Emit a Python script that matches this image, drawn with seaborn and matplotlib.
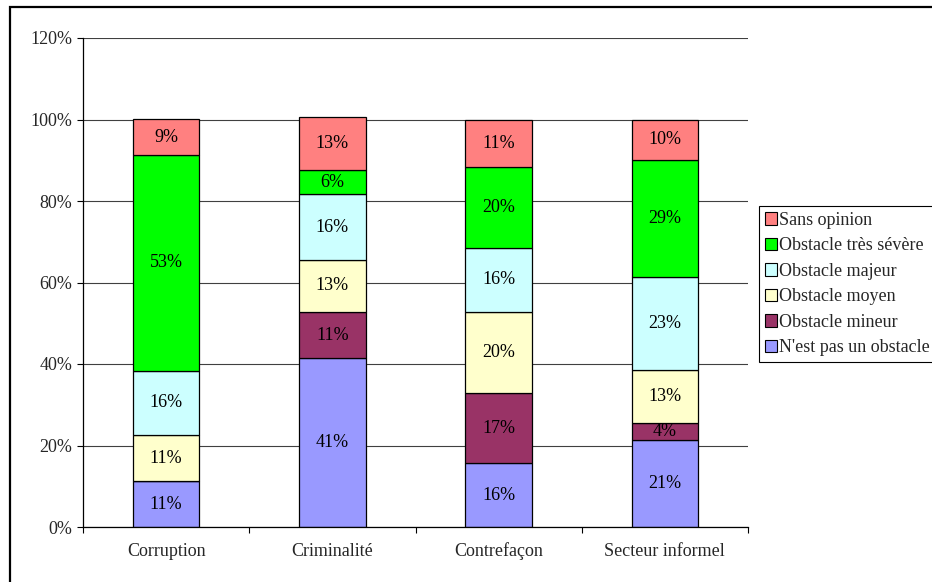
import matplotlib
matplotlib.use("Agg")
import matplotlib.pyplot as plt
from matplotlib.patches import Rectangle
from matplotlib.ticker import FixedLocator, FuncFormatter, NullFormatter
import numpy as np
import seaborn as sns

# Categories on the x axis
categories = ["Corruption", "Criminalité", "Contrefaçon", "Secteur informel"]

# Series, stacked from bottom to top (percent of respondents)
series_names = [
    "N'est pas un obstacle",
    "Obstacle mineur",
    "Obstacle moyen",
    "Obstacle majeur",
    "Obstacle très sévère",
    "Sans opinion",
]
pas_obstacle = [11.2, 41.4, 15.6, 21.3]
mineur = [0.0, 11.4, 17.2, 4.3]
moyen = [11.4, 12.8, 20.0, 13.0]
majeur = [15.8, 16.0, 15.7, 22.8]
tres_severe = [52.9, 6.0, 19.9, 28.6]
sans_opinion = [8.7, 13.1, 11.4, 10.0]
series_values = [pas_obstacle, mineur, moyen, majeur, tres_severe, sans_opinion]

colors = ["#9999FF", "#993366", "#FFFFCC", "#CCFFFF", "#00FF00", "#FF8080"]

y_ticks = [0, 20, 40, 60, 80, 100, 120]

FS = 13

sns.set_style("white")
plt.rcParams["font.family"] = ["Liberation Serif", "DejaVu Serif"]
plt.rcParams["font.size"] = FS

fig = plt.figure(figsize=(9.32, 5.82), dpi=100)
fig.patch.set_facecolor("white")
ax = fig.add_axes([83 / 932, 55 / 582, 665 / 932, 489 / 582])

bottom = np.zeros(len(categories))
for name, vals, col in zip(series_names, series_values, colors):
    vals = np.asarray(vals, dtype=float)
    sns.barplot(
        x=categories, y=vals, bottom=bottom, color=col, saturation=1,
        width=0.4, edgecolor="black", linewidth=0.9, errorbar=None, ax=ax,
    )
    container = ax.containers[-1]
    labels = [f"{v:.0f}%" if v > 0 else "" for v in vals]
    ax.bar_label(container, labels=labels, label_type="center",
                 fontsize=FS, color="black")
    bottom = bottom + vals

if ax.get_legend() is not None:
    ax.get_legend().remove()

ax.set_ylim(0, 120)
ax.set_xlim(-0.5, len(categories) - 0.5)
ax.yaxis.set_major_locator(FixedLocator(y_ticks))
ax.yaxis.set_major_formatter(FuncFormatter(lambda v, p: f"{v:.0f}%"))
ax.set_xlabel("")
ax.set_ylabel("")

ax.yaxis.grid(True, color="#404040", linewidth=0.8)
ax.xaxis.grid(False)
ax.set_axisbelow(True)

for side in ["top", "right"]:
    ax.spines[side].set_visible(False)
for side in ["left", "bottom"]:
    ax.spines[side].set_visible(True)
    ax.spines[side].set_color("black")
    ax.spines[side].set_linewidth(0.9)

ax.tick_params(axis="y", direction="out", length=4.5, width=0.8,
               color="black", pad=3, labelsize=FS, left=True)
ax.xaxis.set_minor_locator(FixedLocator(np.arange(-0.5, len(categories), 1.0)))
ax.xaxis.set_minor_formatter(NullFormatter())
ax.tick_params(axis="x", which="major", length=0, pad=21, labelsize=FS)
ax.tick_params(axis="x", which="minor", direction="out", length=4.5,
               width=0.8, color="black", bottom=True)
for lbl in ax.get_xticklabels():
    lbl.set_verticalalignment("baseline")

# Legend, top series first
handles = [Rectangle((0, 0), 1, 1, facecolor=c, edgecolor="black", linewidth=0.8)
           for c in colors]
leg = fig.legend(
    handles[::-1], series_names[::-1],
    loc="upper left", bbox_to_anchor=(759 / 932, 1 - 206 / 582),
    frameon=True, fancybox=False, framealpha=1, edgecolor="black",
    borderpad=0.32, borderaxespad=0, handlelength=0.68, handleheight=0.68,
    handletextpad=0.12, labelspacing=0.47, fontsize=FS,
)
leg.get_frame().set_linewidth(0.8)

# Outer frame of the chart area
fig.add_artist(Rectangle((10 / 932, -0.1), 1.2, 1.1 - 7 / 582,
                         transform=fig.transFigure, fill=False,
                         edgecolor="black", linewidth=1.6))

fig.savefig("out.png", dpi=100)
